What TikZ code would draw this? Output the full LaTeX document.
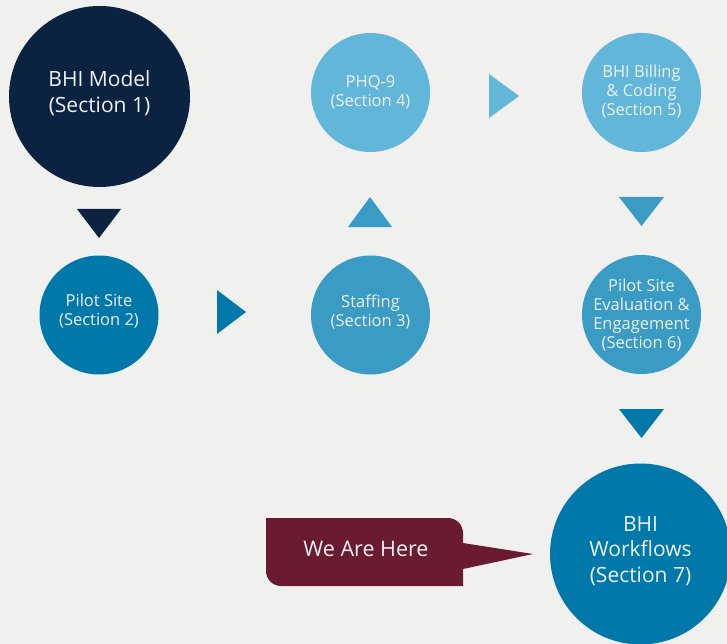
\documentclass[tikz,border=0pt]{standalone}
\usepackage{fontspec}
\setmainfont{Open Sans}
\definecolor{bgcol}{HTML}{F0F0EE}
\definecolor{navy}{HTML}{0C2241}
\definecolor{deepblue}{HTML}{0078AA}
\definecolor{midblue}{HTML}{3A9BC4}
\definecolor{lightblue}{HTML}{61B6DA}
\definecolor{herecol}{HTML}{6A1A31}
\definecolor{txtcol}{HTML}{EEF2F4}

\begin{document}
\begin{tikzpicture}[x=1pt,y=-1pt,
  big/.style={circle, inner sep=0pt, minimum size=181pt},
  small/.style={circle, inner sep=0pt, minimum size=119pt},
  bigtxt/.style={text=txtcol, align=center, font=\fontsize{21}{25.5}\selectfont},
  smalltxt/.style={text=txtcol, align=center, font=\fontsize{16.5}{19}\selectfont}]
\fill[bgcol] (0,0) rectangle (727,644);
\useasboundingbox (0,0) rectangle (727,644);

% row 1
\node[big, fill=navy, label={[bigtxt, yshift=3.5pt]center:{BHI Model\\(Section 1)}}] (model) at (99.5,96.5) {};
\node[small, fill=lightblue, label={[smalltxt]center:{PHQ-9\\(Section 4)}}] (phq) at (370.5,92.5) {};
\node[small, fill=lightblue, label={[smalltxt, yshift=1pt]center:{BHI Billing\\\& Coding\\(Section 5)}}] (billing) at (641.5,92.5) {};

% row 2
\node[small, fill=deepblue, label={[smalltxt, yshift=3.5pt]center:{Pilot Site\\(Section 2)}}] (pilot) at (99,315) {};
\node[small, fill=midblue, label={[smalltxt, yshift=3.5pt]center:{Staffing\\(Section 3)}}] (staffing) at (370.5,315) {};
\node[small, fill=midblue, label={[smalltxt, yshift=-1pt]center:{Pilot Site\\Evaluation \&\\Engagement\\(Section 6)}}] (evaluation) at (641.5,314.5) {};

% row 3
\node[big, fill=deepblue, label={[bigtxt, yshift=3pt]center:{BHI\\Workflows\\(Section 7)}}] (workflows) at (640.5,554) {};

% arrows
\fill[navy] (77,209) -- (121,209) -- (99,238) -- cycle;
\fill[deepblue] (217,290) -- (246,312) -- (217,334) -- cycle;
\fill[midblue] (348,227) -- (392,227) -- (370,197) -- cycle;
\fill[lightblue] (489,74) -- (519,96) -- (489,118) -- cycle;
\fill[midblue] (619,197) -- (664,197) -- (641.5,226) -- cycle;
\fill[deepblue] (619,409) -- (664,409) -- (641.5,438) -- cycle;

% callout
\fill[herecol] (266,518) -- (448,518) arc[start angle=-90, end angle=0, radius=15]
  -- (463,543) -- (533,554) -- (463,569) -- (463,586) -- (281,586)
  arc[start angle=90, end angle=180, radius=15] -- cycle;
\node[text=txtcol, font=\fontsize{21.5}{24}\selectfont] (here) at (366,549) {We Are Here};
\end{tikzpicture}
\end{document}
